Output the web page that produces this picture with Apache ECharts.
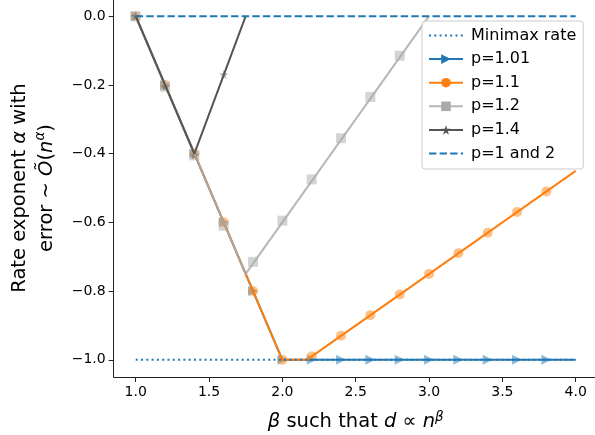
<!DOCTYPE html>
<html>
<head>
<meta charset="utf-8">
<script src="https://cdn.jsdelivr.net/npm/echarts@6/dist/echarts.min.js"></script>
<style>
html,body{margin:0;padding:0;background:#fff;}
#chart{width:595px;height:435px;}
</style>
</head>
<body>
<div id="chart"></div>
<script>
// ---- data ----
const xTicks = [1.0, 1.5, 2.0, 2.5, 3.0, 3.5, 4.0];
const yTicks = [-1.0, -0.8, -0.6, -0.4, -0.2, 0.0];
const markerX = [1.0, 1.2, 1.4, 1.6, 1.8, 2.0, 2.2, 2.4, 2.6, 2.8, 3.0, 3.2, 3.4, 3.6, 3.8];

// empirical points (markers)
const p101Pts = [0, -0.2, -0.4, -0.6, -0.8, -1.0, -1.0, -1.0, -1.0, -1.0, -1.0, -1.0, -1.0, -1.0, -1.0];
const p11Pts  = [0, -0.2, -0.4, -0.6, -0.8, -1.0, -0.99, -0.93, -0.87, -0.81, -0.75, -0.69, -0.63, -0.57, -0.51];
const p12Pts  = [0, -0.205, -0.405, -0.61, -0.715, -0.595, -0.475, -0.355, -0.235, -0.115, null, null, null, null, null];
const p14Pts  = [0, -0.205, -0.405, -0.17, null, null, null, null, null, null, null, null, null, null, null];

// theoretical curves (kink points)
const p101Curve = [[1.0, 0], [2.0, -1.0], [4.0, -1.0]];
const p11Curve  = [[1.0, 0], [2.0, -1.0], [2.167, -1.0], [4.0, -0.45]];
const p12Curve  = [[1.0, 0], [1.75, -0.75], [3.0, 0]];
const p14Curve  = [[1.0, 0], [1.4, -0.4], [1.75, 0]];
const minimaxCurve = [[1.0, -1.0], [4.0, -1.0]];
const p1and2Curve  = [[1.0, 0], [4.0, 0]];

const legendNames = ['Minimax rate', 'p=1.01', 'p=1.1', 'p=1.2', 'p=1.4', 'p=1 and 2'];

// ---- styling ----
const BLUE = '#1f77b4', ORANGE = '#ff7f0e', GRAY = '#aaaaaa', DARK = '#555555';
const FONT = 'DejaVu Sans';
const STAR = 'path://M50,0L61.23,34.55L97.55,34.55L68.17,55.9L79.39,90.45L50,69.1L20.61,90.45L31.83,55.9L2.45,34.55L38.77,34.55Z';

function pts(vals) {
  const out = [];
  vals.forEach((v, i) => { if (v !== null) out.push([markerX[i], v]); });
  return out;
}
function lineSeries(name, data, color, symbol, extra) {
  return Object.assign({
    name: name, type: 'line', data: data, showSymbol: false, symbol: symbol,
    symbolRotate: symbol === 'triangle' ? -90 : 0,
    lineStyle: { color: color, width: 2 },
    itemStyle: { color: color, borderWidth: 0 },
    emphasis: { disabled: true }, silent: true, animation: false, z: 2
  }, extra || {});
}
function scatterSeries(name, data, color, symbol, size) {
  return {
    name: name, type: 'scatter', data: data, symbol: symbol, symbolSize: size,
    symbolRotate: symbol === 'triangle' ? -90 : 0,
    itemStyle: { color: color, opacity: 0.5, borderWidth: 0 },
    emphasis: { disabled: true }, silent: true, animation: false, z: 1
  };
}

const chart = echarts.init(document.getElementById('chart'), null, { renderer: 'canvas' });
const option = {
  backgroundColor: '#ffffff',
  animation: false,
  grid: { left: 113.7, top: -1, width: 484, height: 378, containLabel: false, outerBoundsMode: 'none' },
  xAxis: {
    type: 'value', min: 0.85, max: 4.15,
    name: '{i|β} such that {i|d} ∝ {i|n}{sup|β}',
    nameLocation: 'middle', nameGap: 33,
    nameTextStyle: {
      fontFamily: FONT, fontSize: 19.5, color: '#000',
      rich: {
        i: { fontFamily: FONT, fontSize: 19.5, fontStyle: 'italic', color: '#000' },
        sup: { fontFamily: FONT, fontSize: 13.5, fontStyle: 'italic', color: '#000', verticalAlign: 'top', padding: [0, 0, 10, 0] }
      }
    },
    axisLine: { show: true, onZero: false, lineStyle: { color: '#222', width: 1 } },
    axisTick: { show: true, inside: false, length: 5, lineStyle: { color: '#222', width: 1 }, customValues: xTicks },
    axisLabel: { customValues: xTicks, formatter: v => v.toFixed(1), fontFamily: FONT, fontSize: 14, color: '#000', margin: 8 },
    splitLine: { show: false }
  },
  yAxis: {
    type: 'value', min: -1.05, max: 0.05,
    name: '{n|Rate exponent }{i|α}{n| with}\n{n|error ~ }{i|Õ}{n|(}{i|n}{sup|α}{n|)}',
    nameLocation: 'middle', nameRotate: 90, nameGap: 46,
    nameTextStyle: {
      fontFamily: FONT, fontSize: 19.5, color: '#000', lineHeight: 27,
      rich: {
        n: { fontFamily: FONT, fontSize: 19.5, color: '#000', lineHeight: 27 },
        i: { fontFamily: FONT, fontSize: 19.5, fontStyle: 'italic', color: '#000', lineHeight: 27 },
        sup: { fontFamily: FONT, fontSize: 13.5, fontStyle: 'italic', color: '#000', verticalAlign: 'top', padding: [0, 0, 10, 0] }
      }
    },
    axisLine: { show: true, onZero: false, lineStyle: { color: '#222', width: 1 } },
    axisTick: { show: true, inside: false, length: 5, lineStyle: { color: '#222', width: 1 }, customValues: yTicks },
    axisLabel: { customValues: yTicks, formatter: v => (v < 0 ? '\u2212' : '') + Math.abs(v).toFixed(1), fontFamily: FONT, fontSize: 14, color: '#000', margin: 8 },
    splitLine: { show: false }
  },
  legend: {
    orient: 'vertical', left: 422, top: 21,
    padding: [5, 7, 6, 6],
    itemWidth: 34, itemHeight: 12, itemGap: 4.6,
    backgroundColor: 'rgba(255,255,255,0.8)',
    borderColor: '#cccccc', borderWidth: 1, borderRadius: 3,
    textStyle: { fontFamily: FONT, fontSize: 16, color: '#000', lineHeight: 19, padding: [0, 0, 0, 3] },
    selectedMode: false,
    data: legendNames
  },
  series: [
    lineSeries('p=1.01', p101Curve, BLUE, 'triangle'),
    lineSeries('p=1.1', p11Curve, ORANGE, 'circle'),
    lineSeries('p=1.2', p12Curve, GRAY, 'rect', { lineStyle: { color: GRAY, width: 2, opacity: 0.85 } }),
    lineSeries('p=1.4', p14Curve, DARK, STAR),
    lineSeries('Minimax rate', minimaxCurve, BLUE, 'circle', {
      lineStyle: { color: BLUE, width: 2, type: [2, 3.3] },
      itemStyle: { color: 'rgba(0,0,0,0)', borderWidth: 0, borderColor: 'rgba(0,0,0,0)' }, z: 3
    }),
    lineSeries('p=1 and 2', p1and2Curve, BLUE, 'circle', {
      lineStyle: { color: BLUE, width: 2, type: [7.4, 3.2] },
      itemStyle: { color: 'rgba(0,0,0,0)', borderWidth: 0, borderColor: 'rgba(0,0,0,0)' }, z: 3
    }),
    scatterSeries('p=1.01', pts(p101Pts), BLUE, 'triangle', 10),
    scatterSeries('p=1.1', pts(p11Pts), ORANGE, 'circle', 10),
    scatterSeries('p=1.2', pts(p12Pts), GRAY, 'rect', 10),
    scatterSeries('p=1.4', pts(p14Pts), DARK, STAR, 9)
  ]
};
chart.setOption(option);
</script>
</body>
</html>
